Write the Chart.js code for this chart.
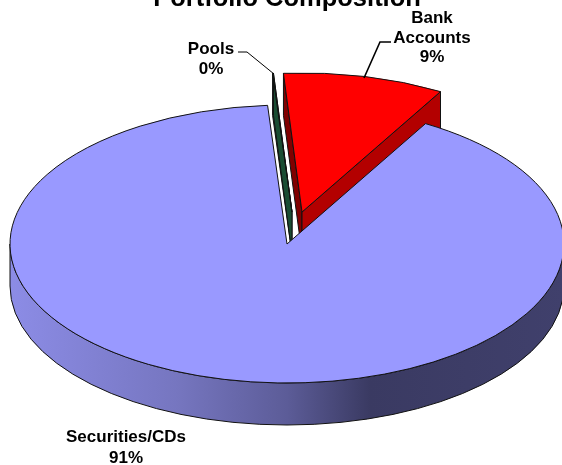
<!DOCTYPE html>
<html>
<head>
<meta charset="utf-8">
<style>
  html, body { margin: 0; padding: 0; background: #fff; overflow: hidden; }
  canvas { display: block; }
</style>
<script src="https://cdn.jsdelivr.net/npm/chart.js@4"></script>
</head>
<body>
<canvas id="pie" width="562" height="465"></canvas>
<script>
const TITLE = 'Portfolio Composition';
const LABELS = ['Securities/CDs', 'Pools', 'Bank Accounts'];
const LABEL_LINES = [['Securities/CDs'], ['Pools'], ['Bank', 'Accounts']];
const VALUES = [90.55, 0.05, 9.4];
const COLORS = ['#9999ff', '#1a4d33', '#ff0000'];

// pseudo 3D geometry
const CX = 287, CY = 244, RADIUS = 277, TILT = 139 / 277, DEPTH = 42;
const FONT = 'bold 17px "Liberation Sans", Arial, sans-serif';
const SHIFT = [[0, 0], [5, -32], [15, -32]];      // exploded slices
const DRAW_ORDER = [1, 2, 0];
const WALL_LEFT = [null, '#1a4d33', '#800000'];
const WALL_RIGHT = [null, '#1a4d33', '#b30000'];
const LABEL_POS = [[126, 442], [211, 54], [432, 23]];
const LABEL_LEADING = [20.5, 19.5, 19.5];

function ex(a) { return RADIUS * Math.cos(a); }
function ey(a) { return RADIUS * TILT * Math.sin(a); }

function sideWall(ctx, x, y, angle, fill) {
  ctx.beginPath();
  ctx.moveTo(x, y);
  ctx.lineTo(x + ex(angle), y + ey(angle));
  ctx.lineTo(x + ex(angle), y + ey(angle) + DEPTH);
  ctx.lineTo(x, y + DEPTH);
  ctx.closePath();
  ctx.fillStyle = fill;
  ctx.fill();
  ctx.stroke();
}

function rimWall(ctx) {
  const g = ctx.createLinearGradient(CX - RADIUS, 0, CX + RADIUS, 0);
  g.addColorStop(0, '#8c8ce6');
  g.addColorStop(0.3, '#7676c0');
  g.addColorStop(0.5, '#5c5c98');
  g.addColorStop(0.65, '#3a3a62');
  g.addColorStop(1, '#40406c');
  ctx.beginPath();
  ctx.ellipse(CX, CY, RADIUS, RADIUS * TILT, 0, 0, Math.PI);
  ctx.lineTo(CX - RADIUS, CY + DEPTH);
  ctx.ellipse(CX, CY + DEPTH, RADIUS, RADIUS * TILT, 0, Math.PI, 0, true);
  ctx.closePath();
  ctx.fillStyle = g;
  ctx.fill();
  ctx.stroke();
}

const pie3d = {
  id: 'pie3d',
  beforeDatasetsDraw(chart) {
    const ctx = chart.ctx;
    const arcs = chart.getDatasetMeta(0).data;
    ctx.save();
    ctx.strokeStyle = '#111';
    ctx.lineWidth = 1;
    ctx.lineJoin = 'round';
    DRAW_ORDER.forEach(i => {
      const arc = arcs[i];
      const x = CX + SHIFT[i][0], y = CY + SHIFT[i][1];
      if (WALL_LEFT[i]) {
        sideWall(ctx, x, y, arc.startAngle, WALL_LEFT[i]);
        sideWall(ctx, x, y, arc.endAngle, WALL_RIGHT[i]);
      } else {
        rimWall(ctx);
      }
      // top face: the library's arc, squashed
      ctx.save();
      ctx.translate(x, y);
      ctx.scale(1, TILT);
      ctx.translate(-arc.x, -arc.y);
      arc.draw(ctx);
      ctx.restore();
      // outline drawn untransformed so the line stays even
      ctx.beginPath();
      ctx.moveTo(x, y);
      ctx.ellipse(x, y, RADIUS, RADIUS * TILT, 0, arc.startAngle, arc.endAngle);
      ctx.closePath();
      ctx.stroke();
    });
    ctx.restore();
    return false;
  },
  afterDraw(chart) {
    const ctx = chart.ctx;
    ctx.save();
    // leader lines
    ctx.strokeStyle = '#000';
    ctx.lineWidth = 1;
    ctx.beginPath();
    ctx.moveTo(238, 52); ctx.lineTo(247, 52); ctx.lineTo(274, 74);
    ctx.stroke();
    ctx.lineWidth = 1.6;
    ctx.beginPath();
    ctx.moveTo(391, 42); ctx.lineTo(380, 42); ctx.lineTo(364, 78);
    ctx.stroke();
    // data labels
    ctx.fillStyle = '#000';
    ctx.font = FONT;
    ctx.textAlign = 'center';
    ctx.textBaseline = 'alphabetic';
    LABELS.forEach((name, i) => {
      const lines = LABEL_LINES[i].concat(Math.round(VALUES[i]) + '%');
      lines.forEach((t, j) => ctx.fillText(t, LABEL_POS[i][0], LABEL_POS[i][1] + j * LABEL_LEADING[i]));
    });
    ctx.restore();
  }
};

new Chart(document.getElementById('pie'), {
  type: 'pie',
  data: {
    labels: LABELS,
    datasets: [{ data: VALUES, backgroundColor: COLORS, borderWidth: 0 }],
  },
  options: {
    responsive: false,
    animation: false,
    radius: RADIUS,
    rotation: 30,
    layout: { padding: { left: 12 } },
    plugins: {
      legend: { display: false },
      tooltip: { enabled: false },
      title: {
        display: true,
        text: TITLE,
        color: '#000',
        font: { family: '"Liberation Sans", Arial, sans-serif', size: 25.5, weight: 'bold' },
        padding: { top: -16, bottom: 0 },
      },
    },
  },
  plugins: [pie3d],
});
</script>
</body>
</html>
